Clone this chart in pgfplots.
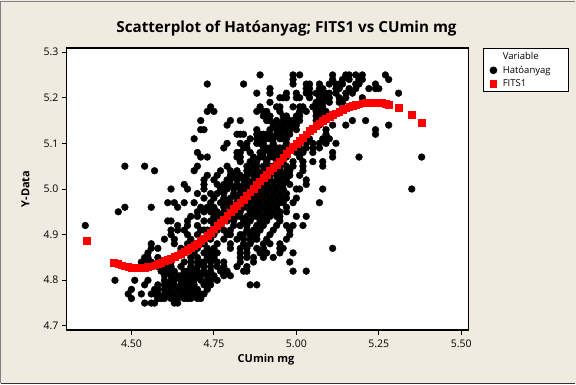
\documentclass[border=0pt]{standalone}
\usepackage{pgfplots}
\pgfplotsset{compat=1.18}
\usepackage{fontspec}
\setmainfont{Open Sans}
\definecolor{bg}{RGB}{239,235,224}
\definecolor{redm}{RGB}{255,0,0}
\begin{document}
\begin{tikzpicture}[x=1pt,y=1pt]
\fill[bg] (-66.5,-54) rectangle (509.5,330);
\draw[gray,line width=1pt] (-65.5,-53) -- (-65.5,329) -- (508.5,329);
\draw[black!80,line width=1pt] (-65.5,-53) -- (508.5,-53);
\begin{axis}[at={(0pt,0pt)},anchor=south west,scale only axis,width=402pt,height=282pt,
 xmin=4.303,xmax=5.522,ymin=4.691,ymax=5.309,
 axis background/.style={fill=white},
 axis line style={line width=1.2pt},
 tick style={black,line width=1pt},tick align=outside,major tick length=4.5pt,
 xtick={4.5,4.75,5,5.25,5.5},ytick={4.7,4.8,4.9,5.0,5.1,5.2,5.3},
 xtick pos=bottom,ytick pos=left,
 xticklabel style={/pgf/number format/.cd,fixed,fixed zerofill,precision=2,assume math mode=true},
 yticklabel style={/pgf/number format/.cd,fixed,fixed zerofill,precision=1,assume math mode=true},
 tick label style={font=\fontsize{10.5}{12}\selectfont},
 xticklabel shift=2pt,
 legend style={at={(416pt,282pt)},anchor=north west,legend cell align=left,draw=black,line width=0.8pt,font=\fontsize{9.5}{10.5}\selectfont,inner xsep=2pt,inner ysep=2pt,row sep=0.8pt,nodes={text width=58pt,align=left,inner xsep=6pt}},
]
\addlegendimage{empty legend}\addlegendentry{Variable}
\addplot[only marks,mark=*,mark size=3.4pt,black,mark options={draw=none}] coordinates {
(4.89,5.25)(4.99,5.25)(5.01,5.25)(5.11,5.25)(5.15,5.25)(5.16,5.25)(5.18,5.25)(5.20,5.25)(5.27,5.25)
(4.99,5.24)(5.11,5.24)(5.14,5.24)(5.16,5.24)(5.19,5.24)(5.20,5.24)(5.28,5.24)
(4.73,5.23)(4.84,5.23)(4.99,5.23)(5.03,5.23)(5.04,5.23)(5.07,5.23)(5.10,5.23)(5.12,5.23)(5.13,5.23)(5.14,5.23)(5.18,5.23)(5.19,5.23)(5.24,5.23)
(4.92,5.22)(5.03,5.22)(5.04,5.22)(5.07,5.22)(5.08,5.22)(5.12,5.22)(5.13,5.22)(5.16,5.22)(5.18,5.22)(5.22,5.22)(5.24,5.22)(5.25,5.22)
(4.88,5.21)(4.92,5.21)(4.97,5.21)(5.00,5.21)(5.03,5.21)(5.04,5.21)(5.08,5.21)(5.09,5.21)(5.10,5.21)(5.15,5.21)(5.17,5.21)(5.31,5.21)
(4.95,5.20)(4.96,5.20)(4.97,5.20)(5.00,5.20)(5.01,5.20)(5.04,5.20)(5.07,5.20)(5.09,5.20)(5.10,5.20)(5.13,5.20)(5.15,5.20)(5.20,5.20)
(4.92,5.19)(5.06,5.19)(5.07,5.19)(5.08,5.19)(5.13,5.19)(5.14,5.19)
(4.74,5.18)(4.89,5.18)(4.94,5.18)(4.95,5.18)(4.99,5.18)(5.01,5.18)(5.02,5.18)(5.06,5.18)(5.08,5.18)
(4.73,5.17)(4.75,5.17)(4.88,5.17)(4.90,5.17)(4.91,5.17)(4.95,5.17)(5.01,5.17)(5.03,5.17)(5.06,5.17)(5.07,5.17)(5.09,5.17)
(4.90,5.16)(4.91,5.16)(4.92,5.16)(4.96,5.16)(4.97,5.16)(5.00,5.16)(5.01,5.16)(5.06,5.16)(5.07,5.16)(5.08,5.16)
(4.71,5.15)(4.80,5.15)(4.83,5.15)(4.91,5.15)(4.92,5.15)(4.94,5.15)(4.96,5.15)(4.97,5.15)(4.98,5.15)(4.99,5.15)(5.00,5.15)(5.01,5.15)(5.06,5.15)(5.07,5.15)(5.17,5.15)(5.21,5.15)
(4.79,5.14)(4.93,5.14)(4.95,5.14)(4.96,5.14)(4.98,5.14)(4.99,5.14)(5.00,5.14)(5.07,5.14)(5.11,5.14)(5.15,5.14)(5.28,5.14)
(4.71,5.13)(4.72,5.13)(4.88,5.13)(4.94,5.13)(4.95,5.13)(4.96,5.13)(4.97,5.13)(4.98,5.13)(5.00,5.13)(5.09,5.13)(5.24,5.13)
(4.82,5.12)(4.83,5.12)(4.84,5.12)(4.88,5.12)(4.89,5.12)(4.90,5.12)(4.91,5.12)(4.94,5.12)(4.95,5.12)(4.98,5.12)(5.09,5.12)(5.24,5.12)
(4.69,5.11)(4.86,5.11)(4.88,5.11)(4.89,5.11)(4.90,5.11)(4.91,5.11)(4.92,5.11)(4.93,5.11)(4.95,5.11)(4.96,5.11)(4.97,5.11)(5.03,5.11)(5.04,5.11)(5.08,5.11)(5.10,5.11)
(4.79,5.10)(4.83,5.10)(4.85,5.10)(4.88,5.10)(4.89,5.10)(4.90,5.10)(4.93,5.10)(4.97,5.10)(5.03,5.10)(5.05,5.10)(5.07,5.10)(5.09,5.10)(5.12,5.10)
(4.78,5.09)(4.84,5.09)(4.85,5.09)(4.90,5.09)(4.91,5.09)(4.94,5.09)(4.95,5.09)(4.98,5.09)(5.01,5.09)(5.03,5.09)(5.05,5.09)(5.07,5.09)
(4.70,5.08)(4.82,5.08)(4.83,5.08)(4.86,5.08)(4.89,5.08)(4.90,5.08)(4.93,5.08)(4.94,5.08)(4.97,5.08)(5.00,5.08)(5.02,5.08)(5.05,5.08)(5.11,5.08)
(4.71,5.07)(4.73,5.07)(4.82,5.07)(4.83,5.07)(4.87,5.07)(4.90,5.07)(4.92,5.07)(4.93,5.07)(4.97,5.07)(5.01,5.07)(5.11,5.07)(5.19,5.07)(5.38,5.07)
(4.83,5.06)(4.86,5.06)(4.88,5.06)(4.91,5.06)(4.94,5.06)(4.96,5.06)(4.99,5.06)(5.02,5.06)(5.05,5.06)(5.08,5.06)
(4.48,5.05)(4.54,5.05)(4.70,5.05)(4.79,5.05)(4.85,5.05)(4.87,5.05)(4.90,5.05)(4.92,5.05)(4.95,5.05)(4.97,5.05)(4.99,5.05)(5.02,5.05)(5.08,5.05)
(4.57,5.04)(4.69,5.04)(4.77,5.04)(4.80,5.04)(4.82,5.04)(4.85,5.04)(4.86,5.04)(4.90,5.04)(4.91,5.04)(4.93,5.04)(4.95,5.04)(4.97,5.04)(4.98,5.04)(5.02,5.04)
(4.73,5.03)(4.76,5.03)(4.80,5.03)(4.83,5.03)(4.85,5.03)(4.87,5.03)(4.89,5.03)(4.91,5.03)(4.94,5.03)(4.96,5.03)(4.98,5.03)(5.01,5.03)
(4.72,5.02)(4.75,5.02)(4.79,5.02)(4.82,5.02)(4.84,5.02)(4.87,5.02)(4.90,5.02)(4.92,5.02)(4.94,5.02)(4.97,5.02)(5.03,5.02)
(4.66,5.01)(4.72,5.01)(4.76,5.01)(4.78,5.01)(4.80,5.01)(4.84,5.01)(4.86,5.01)(4.89,5.01)(4.91,5.01)(4.93,5.01)(4.96,5.01)(4.98,5.01)(5.03,5.01)
(4.62,5.00)(4.67,5.00)(4.72,5.00)(4.77,5.00)(4.79,5.00)(4.83,5.00)(4.85,5.00)(4.88,5.00)(4.90,5.00)(4.92,5.00)(4.94,5.00)(4.96,5.00)(5.00,5.00)(5.01,5.00)(5.08,5.00)(5.35,5.00)
(4.70,4.99)(4.74,4.99)(4.76,4.99)(4.78,4.99)(4.81,4.99)(4.84,4.99)(4.86,4.99)(4.89,4.99)(4.91,4.99)(4.93,4.99)(4.95,4.99)(4.97,4.99)
(4.72,4.98)(4.75,4.98)(4.78,4.98)(4.80,4.98)(4.82,4.98)(4.85,4.98)(4.87,4.98)(4.90,4.98)(4.92,4.98)(4.94,4.98)(4.97,4.98)(5.00,4.98)
(4.61,4.97)(4.63,4.97)(4.66,4.97)(4.69,4.97)(4.74,4.97)(4.77,4.97)(4.79,4.97)(4.82,4.97)(4.84,4.97)(4.86,4.97)(4.89,4.97)(4.91,4.97)(4.93,4.97)(4.96,4.97)(4.99,4.97)(5.07,4.97)
(4.48,4.96)(4.56,4.96)(4.64,4.96)(4.71,4.96)(4.73,4.96)(4.75,4.96)(4.78,4.96)(4.82,4.96)(4.84,4.96)(4.87,4.96)(4.90,4.96)(4.92,4.96)(4.94,4.96)(4.97,4.96)
(4.46,4.95)(4.70,4.95)(4.72,4.95)(4.74,4.95)(4.76,4.95)(4.80,4.95)(4.83,4.95)(4.86,4.95)(4.88,4.95)(4.91,4.95)(4.93,4.95)(4.95,4.95)(4.97,4.95)
(4.68,4.94)(4.70,4.94)(4.75,4.94)(4.77,4.94)(4.80,4.94)(4.82,4.94)(4.85,4.94)(4.87,4.94)(4.90,4.94)(4.92,4.94)(4.95,4.94)(5.00,4.94)(5.03,4.94)
(4.61,4.93)(4.62,4.93)(4.67,4.93)(4.72,4.93)(4.74,4.93)(4.76,4.93)(4.79,4.93)(4.81,4.93)(4.84,4.93)(4.86,4.93)(4.89,4.93)(4.91,4.93)(4.95,4.93)
(4.36,4.92)(4.64,4.92)(4.67,4.92)(4.70,4.92)(4.75,4.92)(4.77,4.92)(4.81,4.92)(4.83,4.92)(4.85,4.92)(4.88,4.92)(4.90,4.92)(4.94,4.92)(4.97,4.92)(4.99,4.92)(5.02,4.92)
(4.62,4.91)(4.64,4.91)(4.66,4.91)(4.71,4.91)(4.73,4.91)(4.76,4.91)(4.78,4.91)(4.80,4.91)(4.85,4.91)(4.87,4.91)(4.89,4.91)(4.93,4.91)(4.98,4.91)
(4.62,4.90)(4.67,4.90)(4.70,4.90)(4.73,4.90)(4.75,4.90)(4.79,4.90)(4.83,4.90)(4.86,4.90)(4.88,4.90)(4.92,4.90)(4.98,4.90)
(4.60,4.89)(4.63,4.89)(4.68,4.89)(4.71,4.89)(4.74,4.89)(4.78,4.89)(4.84,4.89)(4.87,4.89)(4.91,4.89)(4.97,4.89)
(4.56,4.88)(4.63,4.88)(4.67,4.88)(4.70,4.88)(4.72,4.88)(4.76,4.88)(4.80,4.88)(4.84,4.88)(4.86,4.88)(4.90,4.88)(4.92,4.88)(4.95,4.88)
(4.56,4.87)(4.58,4.87)(4.65,4.87)(4.70,4.87)(4.73,4.87)(4.75,4.87)(4.80,4.87)(4.83,4.87)(4.85,4.87)(4.88,4.87)(4.90,4.87)(4.95,4.87)(4.96,4.87)(5.11,4.87)
(4.55,4.86)(4.65,4.86)(4.69,4.86)(4.72,4.86)(4.74,4.86)(4.76,4.86)(4.83,4.86)(4.85,4.86)(4.89,4.86)(4.91,4.86)(4.95,4.86)(4.99,4.86)
(4.54,4.85)(4.55,4.85)(4.58,4.85)(4.68,4.85)(4.70,4.85)(4.73,4.85)(4.75,4.85)(4.83,4.85)(4.85,4.85)(4.87,4.85)(4.90,4.85)(4.93,4.85)
(4.53,4.84)(4.55,4.84)(4.56,4.84)(4.60,4.84)(4.62,4.84)(4.68,4.84)(4.71,4.84)(4.72,4.84)(4.74,4.84)(4.76,4.84)(4.78,4.84)(4.83,4.84)(4.87,4.84)(4.98,4.84)
(4.58,4.83)(4.60,4.83)(4.62,4.83)(4.65,4.83)(4.68,4.83)(4.70,4.83)(4.72,4.83)(4.74,4.83)(4.76,4.83)(4.78,4.83)(4.82,4.83)(4.85,4.83)
(4.59,4.82)(4.60,4.82)(4.61,4.82)(4.63,4.82)(4.66,4.82)(4.67,4.82)(4.69,4.82)(4.70,4.82)(4.72,4.82)(4.74,4.82)(4.77,4.82)(4.79,4.82)(4.84,4.82)(4.85,4.82)(4.99,4.82)(5.03,4.82)
(4.60,4.81)(4.62,4.81)(4.64,4.81)(4.65,4.81)(4.66,4.81)(4.67,4.81)(4.68,4.81)(4.70,4.81)(4.71,4.81)(4.73,4.81)(4.75,4.81)(4.78,4.81)(4.80,4.81)
(4.45,4.80)(4.51,4.80)(4.55,4.80)(4.60,4.80)(4.62,4.80)(4.63,4.80)(4.65,4.80)(4.66,4.80)(4.67,4.80)(4.68,4.80)(4.69,4.80)(4.71,4.80)(4.73,4.80)(4.74,4.80)(4.76,4.80)
(4.54,4.79)(4.58,4.79)(4.60,4.79)(4.61,4.79)(4.63,4.79)(4.65,4.79)(4.66,4.79)(4.67,4.79)(4.68,4.79)(4.69,4.79)(4.72,4.79)(4.74,4.79)(4.86,4.79)(4.88,4.79)
(4.50,4.78)(4.57,4.78)(4.58,4.78)(4.60,4.78)(4.62,4.78)(4.64,4.78)(4.65,4.78)(4.66,4.78)(4.67,4.78)(4.68,4.78)(4.70,4.78)(4.73,4.78)
(4.49,4.77)(4.53,4.77)(4.56,4.77)(4.57,4.77)(4.58,4.77)(4.60,4.77)(4.61,4.77)(4.62,4.77)(4.63,4.77)(4.65,4.77)(4.66,4.77)(4.67,4.77)(4.68,4.77)(4.69,4.77)(4.70,4.77)(4.71,4.77)(4.72,4.77)
(4.50,4.76)(4.58,4.76)(4.59,4.76)(4.60,4.76)(4.62,4.76)(4.63,4.76)(4.64,4.76)(4.66,4.76)(4.67,4.76)(4.68,4.76)(4.70,4.76)(4.71,4.76)
(4.54,4.75)(4.56,4.75)(4.57,4.75)(4.63,4.75)(4.64,4.75)
(4.81,5.03)(4.88,5.03)(4.92,5.03)(4.80,5.02)(4.85,5.02)(4.88,5.02)(4.95,5.02)(4.82,5.01)(4.85,5.01)(4.88,5.01)(4.95,5.01)
(4.81,5.00)(4.87,5.00)(4.89,5.00)(4.83,4.99)(4.88,4.99)(4.90,4.99)(4.83,4.98)(4.88,4.98)(4.96,4.98)
(4.80,4.97)(4.85,4.97)(4.88,4.97)(4.95,4.97)(4.80,4.96)(4.85,4.96)(4.92,4.95)(4.88,4.96)(4.78,4.95)(4.89,4.95)(4.83,4.94)(4.88,4.94)(4.94,4.94)
(4.92,5.05)(4.88,5.05)(4.93,5.05)(4.88,5.04)(4.92,5.04)(4.89,5.07)(4.95,5.07)(4.92,5.08)(4.96,5.08)(4.92,5.09)(4.96,5.09)(4.92,5.12)(4.97,5.12)(4.92,5.13)(5.05,5.18)(5.10,5.19)(5.12,5.21)(5.06,5.21)
(4.72,4.88)(4.74,4.90)(4.72,4.91)(4.78,4.93)(4.83,4.92)(4.80,4.90)(4.84,4.90)(4.82,4.89)(4.86,4.89)(4.88,4.89)(4.70,4.84)(4.74,4.85)(4.66,4.84)
};
\addlegendentry{Hatóanyag}
\addplot[only marks,mark=square*,mark size=3.4pt,redm,mark options={draw=none}] coordinates {
(4.364,4.886)(4.447,4.838)(4.46,4.836)(4.47,4.833)(4.48,4.831)(4.49,4.829)(4.50,4.828)(4.51,4.827)(4.52,4.827)(4.53,4.827)(4.54,4.828)(4.55,4.829)(4.56,4.831)(4.57,4.833)(4.58,4.836)(4.59,4.839)(4.60,4.842)(4.61,4.845)(4.62,4.848)(4.63,4.851)(4.64,4.855)(4.65,4.859)(4.66,4.863)(4.67,4.867)(4.68,4.871)(4.69,4.876)(4.70,4.881)(4.71,4.886)(4.72,4.892)(4.73,4.898)(4.74,4.905)(4.75,4.912)(4.76,4.919)(4.77,4.926)(4.78,4.933)(4.79,4.941)(4.80,4.949)(4.81,4.956)(4.82,4.963)(4.83,4.970)(4.84,4.977)(4.85,4.985)(4.86,4.993)(4.87,5.001)(4.88,5.009)(4.89,5.017)(4.90,5.024)(4.91,5.032)(4.92,5.040)(4.93,5.047)(4.94,5.054)(4.95,5.061)(4.96,5.069)(4.97,5.077)(4.98,5.085)(4.99,5.092)(5.00,5.099)(5.01,5.106)(5.02,5.113)(5.03,5.120)(5.04,5.127)(5.05,5.133)(5.06,5.139)(5.07,5.144)(5.08,5.149)(5.09,5.154)(5.10,5.158)(5.11,5.162)(5.12,5.166)(5.13,5.170)(5.14,5.174)(5.15,5.177)(5.16,5.180)(5.17,5.182)(5.18,5.184)(5.19,5.186)(5.20,5.188)(5.21,5.189)(5.22,5.190)(5.23,5.190)(5.24,5.190)(5.25,5.190)(5.26,5.189)(5.27,5.187)(5.28,5.185)(5.31,5.179)(5.35,5.162)(5.38,5.145)
};
\addlegendentry{FITS1}
\end{axis}
\node[font=\fontsize{15.2}{17}\selectfont\bfseries] at (220,301) {Scatterplot of Hatóanyag; FITS1 vs CUmin mg};
\node[font=\fontsize{11}{13}\selectfont\bfseries] at (199.5,-30) {CUmin mg};
\node[font=\fontsize{11}{13}\selectfont\bfseries,rotate=90] at (-41,141) {Y-Data};
\end{tikzpicture}
\end{document}
